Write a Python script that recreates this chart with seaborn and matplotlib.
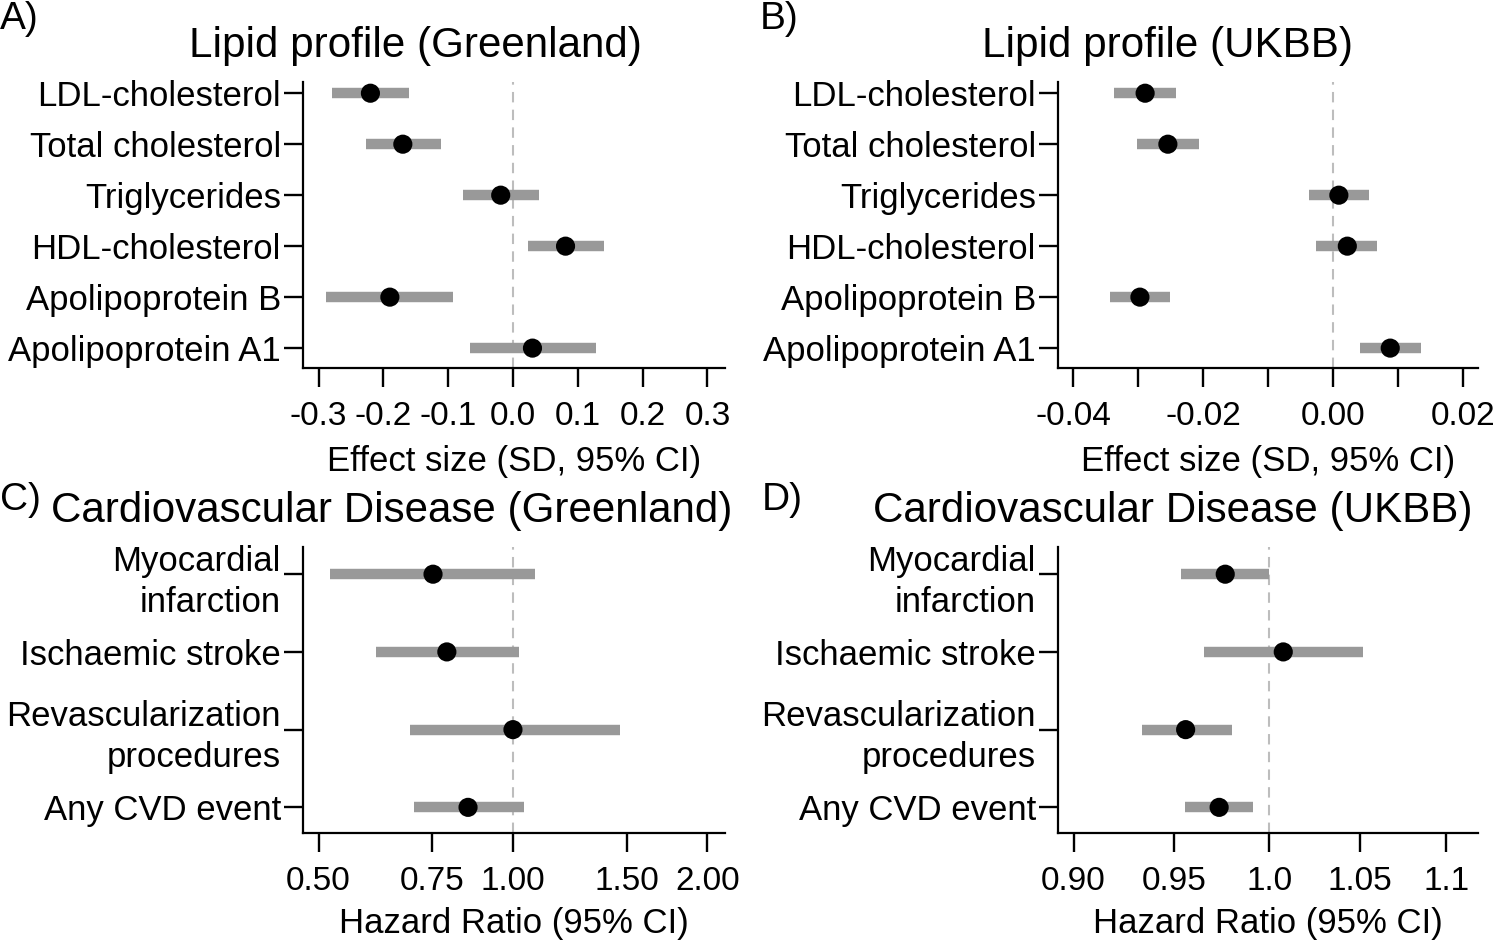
import numpy as np
import pandas as pd
import matplotlib.pyplot as plt
import seaborn as sns
from matplotlib.ticker import NullLocator

sns.set_theme(style='ticks')
plt.rcParams['font.family'] = ['Liberation Sans', 'DejaVu Sans']

# lipid profile, effect size (SD)
lipid_labels = ['LDL-cholesterol', 'Total cholesterol', 'Triglycerides',
                'HDL-cholesterol', 'Apolipoprotein B', 'Apolipoprotein A1']
gl_est = [-0.220, -0.170, -0.019, 0.081, -0.190, 0.030]
gl_lo = [-0.279, -0.227, -0.077, 0.023, -0.288, -0.066]
gl_hi = [-0.161, -0.111, 0.040, 0.140, -0.092, 0.128]

uk_est = [-0.0289, -0.0254, 0.0009, 0.0022, -0.0297, 0.0088]
uk_lo = [-0.0337, -0.0302, -0.0037, -0.0026, -0.0343, 0.0042]
uk_hi = [-0.0242, -0.0206, 0.0055, 0.0068, -0.0251, 0.0135]

# cardiovascular disease, hazard ratio
cvd_labels = ['Myocardial\ninfarction', 'Ischaemic stroke',
              'Revascularization\nprocedures', 'Any CVD event']
gl_hr = [0.752, 0.790, 1.000, 0.852]
gl_hr_lo = [0.521, 0.614, 0.693, 0.703]
gl_hr_hi = [1.080, 1.020, 1.464, 1.040]

uk_hr = [0.9766, 1.0076, 0.956, 0.9734]
uk_hr_lo = [0.9537, 0.9655, 0.934, 0.9557]
uk_hr_hi = [1.000, 1.052, 0.980, 0.9914]

W, H = 1502, 941
fig = plt.figure(figsize=(W / 100, H / 100), dpi=100)


def px_axes(left, right, top, bottom):
    return fig.add_axes([left / W, 1 - bottom / H, (right - left) / W, (bottom - top) / H])


def forest(ax, labels, est, lo, hi, ref, ylim):
    df = pd.DataFrame({'label': labels, 'pos': np.arange(len(labels)),
                       'est': est, 'lo': lo, 'hi': hi})
    ax.axvline(ref, color='#bdbdbd', lw=1.5, dashes=(5, 3.5), zorder=1)
    ax.hlines(df['pos'], df['lo'], df['hi'], color='#999999', lw=7.5, zorder=2)
    sns.scatterplot(data=df, x='est', y='pos', color='black', s=190,
                    edgecolor='none', zorder=3, legend=False, ax=ax)
    ax.set_yticks(df['pos'], df['label'])
    for t in ax.get_yticklabels():
        t.set_linespacing(1.3)
    ax.set_ylim(*ylim)
    ax.set_ylabel('')
    sns.despine(ax=ax)
    for s in ['left', 'bottom']:
        ax.spines[s].set_linewidth(1.6)
        ax.spines[s].set_color('black')
    ax.tick_params(axis='both', length=14, width=1.7, color='black',
                   labelcolor='black')
    ax.tick_params(axis='x', pad=10, labelsize=24)
    ax.tick_params(axis='y', pad=2, labelsize=25)


label_kw = dict(fontsize=25, color='black', labelpad=9)

axA = px_axes(303, 725, 82, 368)
forest(axA, lipid_labels, gl_est, gl_lo, gl_hi, 0.0, (5.39, -0.22))
axA.set_xlim(-0.324, 0.327)
axA.set_xticks([-0.3, -0.2, -0.1, 0.0, 0.1, 0.2, 0.3],
               ['-0.3', '-0.2', '-0.1', '0.0', '0.1', '0.2', '0.3'])
axA.set_xlabel('Effect size (SD, 95% CI)', **label_kw)

axB = px_axes(1058, 1478, 82, 368)
forest(axB, lipid_labels, uk_est, uk_lo, uk_hi, 0.0, (5.39, -0.22))
axB.set_xlim(-0.0423, 0.0223)
axB.set_xticks([-0.04, -0.03, -0.02, -0.01, 0.0, 0.01, 0.02],
               ['-0.04', '', '-0.02', '', '0.00', '', '0.02'])
axB.set_xlabel('Effect size (SD, 95% CI)', **label_kw)

axC = px_axes(303, 725, 547, 833)
axC.set_xscale('log')
forest(axC, cvd_labels, gl_hr, gl_hr_lo, gl_hr_hi, 1.0, (3.33, -0.35))
axC.set_xlim(0.473, 2.13)
axC.set_xticks([0.5, 0.75, 1.0, 1.5, 2.0], ['0.50', '0.75', '1.00', '1.50', '2.00'])
axC.xaxis.set_minor_locator(NullLocator())
axC.set_xlabel('Hazard Ratio (95% CI)', fontsize=25, color='black', labelpad=7)

axD = px_axes(1058, 1478, 547, 833)
axD.set_xscale('log')
forest(axD, cvd_labels, uk_hr, uk_hr_lo, uk_hr_hi, 1.0, (3.33, -0.35))
axD.set_xlim(0.8925, 1.119)
axD.set_xticks([0.9, 0.95, 1.0, 1.05, 1.1], ['0.90', '0.95', '1.0', '1.05', '1.1'])
axD.xaxis.set_minor_locator(NullLocator())
axD.set_xlabel('Hazard Ratio (95% CI)', fontsize=25, color='black', labelpad=7)

# panel titles and letters
title_kw = dict(fontsize=30.3, ha='center', va='center', color='black')
fig.text(415 / W, 1 - 46 / H, 'Lipid profile (Greenland)', **title_kw)
fig.text(1168 / W, 1 - 46 / H, 'Lipid profile (UKBB)', **title_kw)
fig.text(392 / W, 1 - 511 / H, 'Cardiovascular Disease (Greenland)', **title_kw)
fig.text(1173 / W, 1 - 511 / H, 'Cardiovascular Disease (UKBB)', **title_kw)

letter_kw = dict(fontsize=28, ha='left', va='top', color='black')
fig.text(0 / W, 1 - 1 / H, 'A)', **letter_kw)
fig.text(760 / W, 1 - 1 / H, 'B)', **letter_kw)
fig.text(0 / W, 1 - 482 / H, 'C)', **letter_kw)
fig.text(762 / W, 1 - 482 / H, 'D)', **letter_kw)

fig.savefig('out.png', dpi=100)
